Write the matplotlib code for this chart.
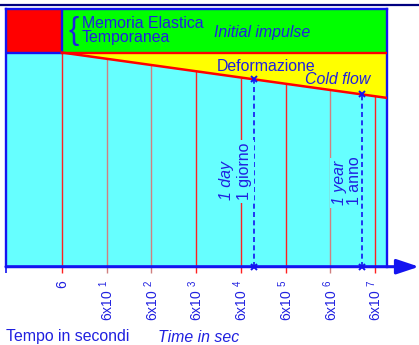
import numpy as np
import matplotlib as mpl
import matplotlib.pyplot as plt
from matplotlib.patches import Rectangle
from matplotlib.lines import Line2D

# time axis (seconds, log scale)
t_min, t_max = 0.3355, 1.114e8
tick_times = [6, 6e1, 6e2, 6e3, 6e4, 6e5, 6e6, 6e7]
tick_labels = ["6", "6x10 $^{1}$", "6x10 $^{2}$", "6x10 $^{3}$",
               "6x10 $^{4}$", "6x10 $^{5}$", "6x10 $^{6}$", "6x10 $^{7}$"]
tick_colors = ["#ff2020", "#d08080", "#d08080", "#ff2020",
               "#ff2020", "#ff2020", "#d08080", "#ff2020"]

# levels of the schematic (0..100)
elastic_level = 83.1      # end of initial impulse
flow_t = [6, t_max]       # cold-flow line from 6 s to the end
flow_level = [83.1, 65.5]

day_sec = 1.2e5
year_sec = 3.15e7

BLUE = "#1414f0"
TXT = "#2020e0"
CYAN = "#66ffff"

mpl.rcParams.update({
    "font.family": ["Liberation Sans", "DejaVu Sans"],
    "mathtext.default": "regular",
})


def flow_at(t):
    return np.interp(np.log10(t), np.log10(flow_t), flow_level)


fig = plt.figure(figsize=(4.19, 3.45), dpi=100)
ax = fig.add_axes([6 / 419, 1 - 266.7 / 345, 381 / 419, 257.7 / 345])
ax.set_facecolor(CYAN)
ax.set_xscale("log")
ax.set_xlim(t_min, t_max)
ax.set_ylim(0, 100)

# green band, red box, yellow wedge
ax.fill_between(flow_t, elastic_level, 100, color="#00ff00", lw=0, zorder=1)
ax.fill_between(flow_t, flow_level, elastic_level, color="#ffff00", lw=0, zorder=1)
ax.add_patch(Rectangle((t_min, elastic_level), 6 - t_min, 100 - elastic_level,
                       facecolor="#ff0000", edgecolor=BLUE, lw=1.7, zorder=3))
ax.plot(flow_t, [elastic_level, elastic_level], color="#ff0000", lw=1.7, zorder=4)
ax.plot(flow_t, flow_level, color="#ff0000", lw=1.8, zorder=4)

# vertical time lines
for t, c in zip(tick_times, tick_colors):
    ax.vlines(t, -2.3, flow_at(t), color=c, lw=1.0, zorder=2, clip_on=False)
ax.vlines(t_min, -2.3, 0, color=BLUE, lw=1.2, clip_on=False)

# day / year markers
for t in (day_sec, year_sec):
    ax.plot([t, t], [0, flow_at(t)], color=BLUE, lw=1.2, ls=(0, (3, 2)),
            marker="x", ms=5, mew=1.4, zorder=5, clip_on=False)

# the boxed text hides the time line behind it
bb = dict(facecolor=CYAN, edgecolor="none", pad=2)
ax.text(2.94e4, 25.9, "1 day", rotation=90, ha="center", va="bottom",
        style="italic", fontsize=11.4, color=TXT, zorder=7)
ax.text(7.06e4, 25.9, "1 giorno", rotation=90, ha="center", va="bottom",
        fontsize=11.4, color=TXT, bbox=bb, zorder=6)
ax.text(9.9e6, 23.9, "1 year", rotation=90, ha="center", va="bottom",
        style="italic", fontsize=11.4, color=TXT, bbox=bb, zorder=6)
ax.text(2.14e7, 23.9, "1 anno", rotation=90, ha="center", va="bottom",
        fontsize=11.4, color=TXT, zorder=7)

# labels in the bands
ax.text(0.1995, 0.926, "Memoria Elastica", transform=ax.transAxes,
        fontsize=11.4, color=TXT, va="baseline", zorder=6)
ax.text(0.1995, 0.872, "Temporanea", transform=ax.transAxes,
        fontsize=11.4, color=TXT, va="baseline", zorder=6)
ax.text(0.178, 0.915, "{", transform=ax.transAxes, fontsize=22,
        color=TXT, va="center", ha="center", zorder=6)
ax.text(0.546, 0.8925, "Initial impulse", transform=ax.transAxes,
        fontsize=11.4, color=TXT, style="italic", va="baseline", zorder=6)
ax.text(0.554, 0.759, "Deformazione", transform=ax.transAxes,
        fontsize=11.4, color=TXT, va="baseline", zorder=6)
ax.text(0.785, 0.708, "Cold flow", transform=ax.transAxes,
        fontsize=11.4, color=TXT, style="italic", va="baseline", zorder=6)

# axes frame
for side in ("left", "right", "top"):
    ax.spines[side].set_color(BLUE)
    ax.spines[side].set_linewidth(1.7)
ax.spines["bottom"].set_visible(False)
ax.annotate("", xy=(1.084, 0), xytext=(0, 0), xycoords="axes fraction",
            annotation_clip=False,
            arrowprops=dict(arrowstyle="-|>,head_length=1.35,head_width=0.45",
                            mutation_scale=10, lw=2.2, color=BLUE,
                            shrinkA=0, shrinkB=0))

ax.set_yticks([])
ax.set_xticks(tick_times, tick_labels)
ax.minorticks_off()
ax.tick_params(axis="x", length=0, pad=9.5, labelsize=10,
               labelcolor=TXT, labelrotation=90)

fig.add_artist(Line2D([0, 1], [1 - 5 / 345] * 2, color="#000080", lw=1.6))
fig.text(6 / 419, 8 / 345, "Tempo in secondi", fontsize=11.4, color=TXT,
         va="center")
fig.text(158 / 419, 8 / 345, "Time in sec", fontsize=11.4, color=TXT,
         style="italic", va="center")

fig.savefig("out.png", dpi=100)
